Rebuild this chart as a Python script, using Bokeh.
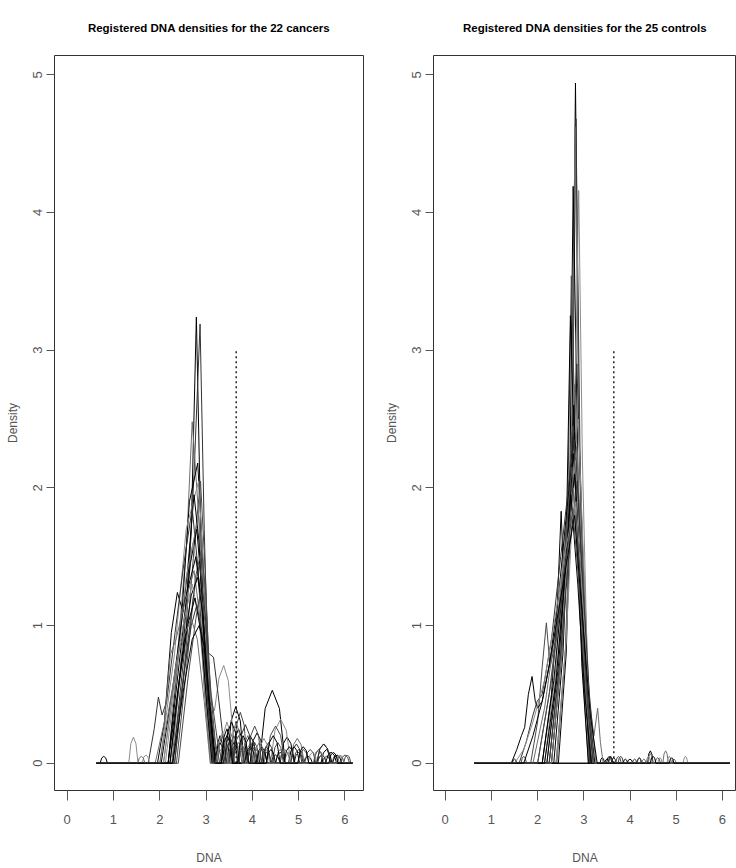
from bokeh.plotting import figure
from bokeh.layouts import row
from bokeh.models import Range1d, FixedTicker
from bokeh.embed import file_html
from bokeh.resources import INLINE

# ---------------- data ----------------
grid_start = 0.63
grid_end = 6.16
cutoff_x = [3.65]
cutoff_top = [3.0]
x_ticks = [0, 1, 2, 3, 4, 5, 6]
y_ticks = [0, 1, 2, 3, 4, 5]
titles = ["Registered DNA densities for the 22 cancers",
          "Registered DNA densities for the 25 controls"]

# main body knots (x, density) of each of the 22 cancer densities
cancer_body = [
    [(2.22, 0), (2.50, 0.8), (2.68, 1.7), (2.79, 3.24), (2.89, 1.6), (3.00, 0.5), (3.12, 0)],
    [(2.28, 0), (2.56, 0.9), (2.74, 2.1), (2.87, 3.19), (2.96, 1.7), (3.06, 0.45), (3.16, 0)],
    [(2.08, 0), (2.36, 0.7), (2.58, 1.6), (2.70, 2.48), (2.84, 1.8), (2.99, 0.6), (3.14, 0)],
    [(2.18, 0), (2.46, 1.0), (2.64, 1.9), (2.82, 2.18), (2.93, 1.5), (3.06, 0.5), (3.20, 0)],
    [(2.00, 0), (2.32, 0.8), (2.57, 1.7), (2.84, 2.05), (2.96, 1.3), (3.08, 0.45), (3.18, 0.38),
     (3.28, 0.62), (3.38, 0.71), (3.48, 0.6), (3.56, 0.3), (3.62, 0.1), (3.70, 0)],
    [(2.32, 0), (2.56, 0.8), (2.75, 1.6), (2.88, 2.05), (2.98, 1.4), (3.09, 0.45), (3.24, 0)],
    [(1.95, 0), (2.10, 0.3), (2.25, 0.95), (2.38, 1.24), (2.50, 1.1), (2.60, 1.4), (2.74, 1.95),
     (2.85, 1.6), (2.97, 0.65), (3.12, 0)],
    [(1.75, 0), (1.88, 0.25), (1.97, 0.48), (2.05, 0.35), (2.15, 0.45), (2.33, 0.95), (2.52, 1.45),
     (2.70, 1.85), (2.83, 1.4), (2.96, 0.55), (3.10, 0)],
    [(2.26, 0), (2.50, 0.9), (2.69, 1.55), (2.84, 1.80), (2.94, 1.35), (3.05, 0.55), (3.18, 0)],
    [(2.18, 0), (2.46, 0.85), (2.66, 1.45), (2.80, 1.70), (2.91, 1.25), (3.03, 0.55), (3.14, 0.15), (3.25, 0)],
    [(2.12, 0), (2.36, 0.65), (2.57, 1.35), (2.72, 1.60), (2.86, 1.3), (2.99, 0.6), (3.12, 0)],
    [(2.36, 0), (2.58, 0.7), (2.77, 1.35), (2.90, 1.55), (2.99, 1.25), (3.09, 0.55), (3.20, 0.15), (3.30, 0)],
    [(2.03, 0), (2.28, 0.55), (2.52, 1.15), (2.78, 1.50), (2.91, 1.15), (3.03, 0.5), (3.16, 0)],
    [(2.32, 0), (2.56, 0.75), (2.74, 1.25), (2.86, 1.45), (2.96, 1.15), (3.05, 0.8), (3.16, 0.77),
     (3.26, 0.5), (3.36, 0.2), (3.45, 0)],
    [(1.90, 0), (2.10, 0.3), (2.23, 0.79), (2.35, 0.9), (2.53, 1.15), (2.74, 1.40), (2.87, 1.05),
     (2.99, 0.45), (3.11, 0)],
    [(2.22, 0), (2.47, 0.75), (2.68, 1.22), (2.82, 1.35), (2.94, 1.05), (3.06, 0.5), (3.21, 0)],
    [(2.08, 0), (2.32, 0.65), (2.53, 1.05), (2.70, 1.30), (2.85, 1.05), (2.98, 0.5), (3.11, 0)],
    [(2.40, 0), (2.62, 0.65), (2.78, 1.05), (2.88, 1.25), (2.99, 1.0), (3.11, 0.5), (3.25, 0.15), (3.35, 0)],
    [(2.18, 0), (2.42, 0.6), (2.60, 1.0), (2.76, 1.20), (2.89, 0.95), (3.01, 0.45), (3.13, 0)],
    [(2.27, 0), (2.52, 0.65), (2.68, 1.0), (2.80, 1.15), (2.91, 0.95), (3.03, 0.5), (3.16, 0)],
    [(2.00, 0), (2.20, 0.4), (2.43, 0.85), (2.68, 1.05), (2.81, 0.9), (2.96, 0.45), (3.09, 0)],
    [(2.28, 0), (2.52, 0.55), (2.70, 0.9), (2.85, 1.00), (2.96, 0.85), (3.07, 0.45), (3.19, 0)],
]
# small separate bumps (centre, height, half width) of each cancer density
cancer_bumps = [
    [(3.45, 0.12, 0.12), (3.90, 0.08, 0.10), (4.50, 0.06, 0.10), (5.20, 0.05, 0.10)],
    [(3.50, 0.15, 0.10), (3.80, 0.10, 0.10), (4.30, 0.08, 0.12), (5.60, 0.05, 0.10)],
    [(3.35, 0.20, 0.10), (3.70, 0.15, 0.12), (4.10, 0.10, 0.10), (4.80, 0.08, 0.12), (5.50, 0.06, 0.10)],
    [(3.64, 0.41, 0.18), (4.20, 0.12, 0.12), (4.75, 0.19, 0.15), (5.43, 0.10, 0.10)],
    [(3.95, 0.14, 0.12), (4.60, 0.10, 0.10), (5.90, 0.05, 0.08)],
    [(3.50, 0.20, 0.10), (3.74, 0.37, 0.15), (4.05, 0.15, 0.10), (5.00, 0.10, 0.12)],
    [(3.30, 0.15, 0.10), (3.60, 0.12, 0.10), (4.60, 0.08, 0.10)],
    [(3.40, 0.10, 0.10), (4.00, 0.12, 0.12), (5.50, 0.06, 0.10)],
    [(3.50, 0.25, 0.12), (3.90, 0.20, 0.12), (4.30, 0.10, 0.10), (4.97, 0.18, 0.15), (5.80, 0.06, 0.08)],
    [(3.60, 0.15, 0.12), (3.95, 0.20, 0.15), (4.43, 0.53, 0.28), (4.90, 0.12, 0.12), (5.54, 0.14, 0.15)],
    [(3.45, 0.30, 0.12), (3.80, 0.18, 0.12), (4.61, 0.32, 0.22), (5.30, 0.08, 0.10)],
    [(3.60, 0.20, 0.12), (4.00, 0.15, 0.10), (4.50, 0.27, 0.20), (5.10, 0.10, 0.12), (6.00, 0.06, 0.10)],
    [(3.30, 0.20, 0.08), (3.70, 0.25, 0.12), (4.20, 0.10, 0.12), (5.83, 0.06, 0.10)],
    [(3.80, 0.12, 0.10), (4.35, 0.15, 0.12), (5.00, 0.08, 0.10)],
    [(3.40, 0.18, 0.10), (3.90, 0.10, 0.10), (4.70, 0.10, 0.12)],
    [(3.55, 0.30, 0.15), (4.10, 0.22, 0.15), (4.80, 0.12, 0.12), (5.60, 0.10, 0.12)],
    [(1.43, 0.19, 0.10), (1.70, 0.06, 0.08), (3.35, 0.22, 0.12), (3.75, 0.15, 0.10), (4.25, 0.18, 0.12),
     (5.43, 0.10, 0.12)],
    [(3.70, 0.20, 0.12), (4.05, 0.27, 0.15), (4.55, 0.15, 0.12), (5.25, 0.10, 0.12), (6.05, 0.06, 0.08)],
    [(0.79, 0.05, 0.08), (3.45, 0.20, 0.12), (3.95, 0.12, 0.12), (4.40, 0.10, 0.10), (5.70, 0.08, 0.12)],
    [(3.50, 0.15, 0.10), (3.85, 0.28, 0.15), (4.30, 0.12, 0.10), (4.95, 0.14, 0.12), (5.54, 0.14, 0.15)],
    [(1.60, 0.05, 0.08), (3.30, 0.10, 0.10), (3.65, 0.30, 0.12), (4.15, 0.15, 0.12), (5.90, 0.06, 0.08)],
    [(3.45, 0.25, 0.12), (3.80, 0.20, 0.12), (4.45, 0.20, 0.15), (5.10, 0.12, 0.12), (5.75, 0.08, 0.10)],
]

# main body knots of each of the 25 control densities
control_body = [
    [(2.45, 0), (2.62, 0.8), (2.74, 2.2), (2.82, 4.94), (2.90, 2.4), (3.00, 0.9), (3.12, 0)],
    [(2.40, 0), (2.60, 0.8), (2.75, 2.3), (2.83, 4.68), (2.92, 2.2), (3.03, 0.8), (3.14, 0)],
    [(2.42, 0), (2.62, 0.9), (2.74, 2.4), (2.81, 4.62), (2.90, 2.3), (3.01, 0.8), (3.12, 0)],
    [(2.35, 0), (2.55, 0.8), (2.70, 2.1), (2.77, 4.19), (2.88, 2.0), (3.00, 0.7), (3.14, 0)],
    [(2.40, 0), (2.62, 0.9), (2.78, 2.0), (2.89, 4.16), (2.97, 2.2), (3.07, 0.8), (3.18, 0)],
    [(2.30, 0), (2.52, 0.8), (2.65, 1.8), (2.73, 3.54), (2.84, 2.0), (2.97, 0.7), (3.10, 0)],
    [(2.25, 0), (2.50, 0.8), (2.63, 1.8), (2.71, 3.25), (2.82, 2.0), (2.96, 0.7), (3.10, 0)],
    [(2.30, 0), (2.55, 0.9), (2.72, 2.0), (2.85, 2.90), (2.95, 1.8), (3.07, 0.7), (3.20, 0)],
    [(2.20, 0), (2.45, 0.8), (2.65, 1.8), (2.80, 2.75), (2.92, 1.7), (3.06, 0.6), (3.19, 0)],
    [(2.10, 0), (2.30, 0.5), (2.42, 1.1), (2.51, 1.83), (2.58, 1.2), (2.68, 1.8), (2.78, 2.60),
     (2.90, 1.6), (3.04, 0.6), (3.16, 0)],
    [(2.15, 0), (2.40, 0.7), (2.58, 1.64), (2.66, 1.5), (2.76, 2.2), (2.88, 2.50), (2.98, 1.6),
     (3.10, 0.6), (3.22, 0)],
    [(1.85, 0), (2.00, 0.3), (2.10, 0.7), (2.19, 1.02), (2.27, 0.7), (2.40, 0.9), (2.60, 1.6),
     (2.76, 2.45), (2.88, 1.6), (3.02, 0.6), (3.16, 0)],
    [(1.43, 0), (1.55, 0.1), (1.65, 0.2), (1.72, 0.26), (1.80, 0.5), (1.88, 0.63), (1.95, 0.45),
     (2.00, 0.4), (2.10, 0.45), (2.25, 0.7), (2.45, 1.2), (2.65, 1.9), (2.80, 2.40), (2.92, 1.6),
     (3.06, 0.6), (3.18, 0)],
    [(1.60, 0), (1.75, 0.15), (1.90, 0.35), (1.99, 0.45), (2.10, 0.5), (2.30, 0.9), (2.50, 1.5),
     (2.70, 2.1), (2.79, 2.35), (2.92, 1.5), (3.06, 0.55), (3.19, 0)],
    [(2.30, 0), (2.52, 0.8), (2.70, 1.8), (2.84, 2.30), (2.97, 1.4), (3.10, 0.5), (3.22, 0.2),
     (3.30, 0.4), (3.36, 0.15), (3.42, 0)],
    [(2.20, 0), (2.45, 0.7), (2.65, 1.6), (2.77, 2.25), (2.92, 1.5), (3.06, 0.6), (3.19, 0)],
    [(2.25, 0), (2.50, 0.8), (2.68, 1.7), (2.82, 2.20), (2.94, 1.4), (3.09, 0.5), (3.24, 0)],
    [(2.00, 0), (2.25, 0.5), (2.50, 1.2), (2.74, 2.15), (2.87, 1.5), (3.02, 0.6), (3.14, 0)],
    [(2.10, 0), (2.35, 0.6), (2.55, 1.3), (2.80, 2.10), (2.94, 1.3), (3.09, 0.5), (3.24, 0)],
    [(2.25, 0), (2.50, 0.8), (2.70, 1.6), (2.86, 2.05), (2.98, 1.3), (3.12, 0.5), (3.26, 0)],
    [(1.90, 0), (2.15, 0.4), (2.40, 1.0), (2.60, 1.5), (2.78, 2.00), (2.92, 1.2), (3.07, 0.4), (3.19, 0)],
    [(2.15, 0), (2.40, 0.6), (2.60, 1.4), (2.72, 1.95), (2.87, 1.3), (3.02, 0.5), (3.16, 0)],
    [(1.50, 0), (1.70, 0.1), (1.90, 0.3), (2.15, 0.6), (2.40, 1.1), (2.60, 1.55), (2.83, 1.90),
     (2.97, 1.2), (3.12, 0.4), (3.26, 0)],
    [(2.00, 0), (2.30, 0.6), (2.55, 1.3), (2.76, 1.85), (2.92, 1.2), (3.08, 0.45), (3.22, 0)],
    [(1.70, 0), (1.90, 0.2), (2.10, 0.45), (2.30, 0.8), (2.55, 1.3), (2.80, 1.80), (2.96, 1.1),
     (3.14, 0.35), (3.29, 0)],
]
control_bumps = [
    [(3.55, 0.05, 0.06), (4.44, 0.09, 0.06)],
    [(3.80, 0.05, 0.06)],
    [(4.77, 0.09, 0.06)],
    [(4.00, 0.03, 0.06)],
    [(5.20, 0.05, 0.05)],
    [(4.60, 0.04, 0.06)],
    [(3.40, 0.04, 0.05)],
    [(3.65, 0.04, 0.05)],
    [(4.30, 0.03, 0.05)],
    [(3.50, 0.03, 0.05)],
    [(4.85, 0.05, 0.05)],
    [(3.75, 0.05, 0.06)],
    [(1.50, 0.03, 0.05)],
    [(4.10, 0.03, 0.05)],
    [(4.44, 0.07, 0.05)],
    [(3.90, 0.03, 0.05)],
    [(4.65, 0.04, 0.05)],
    [(1.70, 0.05, 0.06)],
    [(3.58, 0.05, 0.05)],
    [(3.58, 0.05, 0.05)],
    [(4.95, 0.03, 0.05)],
    [(4.20, 0.04, 0.05)],
    [(4.40, 0.05, 0.05)],
    [(4.20, 0.04, 0.05)],
    [(4.50, 0.05, 0.06), (4.90, 0.04, 0.05)],
]

line_colors = ["black", "#333333", "#6e6e6e", "black", "#8c8c8c", "#4a4a4a"]

FONT = "Liberation Sans"
Y_LO, Y_HI = -0.198, 5.14


def curve_points(body, bumps):
    pieces = [list(body)]
    for c, h, w in bumps:
        pieces.append([(c - w, 0), (c - 0.55 * w, 0.75 * h), (c, h),
                       (c + 0.55 * w, 0.75 * h), (c + w, 0)])
    pieces.sort(key=lambda s: s[0][0])
    pts = [(grid_start, 0)]
    for s in pieces:
        pts.extend(s)
    pts.append((grid_end, 0))
    return [p[0] for p in pts], [p[1] for p in pts]


def make_panel(title, bodies, bumps, x_lo, x_hi, left, right):
    p = figure(width=368, height=868, x_range=Range1d(x_lo, x_hi), y_range=Range1d(Y_LO, Y_HI),
               output_backend="svg", toolbar_location=None,
               min_border_left=left, min_border_right=right,
               min_border_top=55, min_border_bottom=78)
    p.title.text = title
    p.title.align = "center"
    p.title.vertical_align = "top"
    p.title.text_font = FONT
    p.title.text_font_size = "11.5px"
    p.title.text_font_style = "bold"
    p.title.text_color = "black"
    p.title.standoff = 40
    p.grid.visible = False
    p.outline_line_color = "#333333"
    p.outline_line_width = 1
    p.background_fill_color = "white"
    p.border_fill_color = "white"

    xs, ys = [], []
    for b, bb in zip(bodies, bumps):
        x, y = curve_points(b, bb)
        xs.append(x)
        ys.append(y)
    cols = [line_colors[i % len(line_colors)] for i in range(len(xs))]
    p.multi_line(xs=xs, ys=ys, line_color=cols, line_width=1.0)
    p.segment(x0=cutoff_x, y0=[0], x1=cutoff_x, y1=cutoff_top,
              line_color="black", line_width=1.3, line_dash="2 3")

    for ax in (p.xaxis, p.yaxis):
        ax.axis_line_color = None
        ax.major_tick_line_color = "#555555"
        ax.major_tick_in = 0
        ax.minor_tick_line_color = None
        ax.major_label_text_font = FONT
        ax.major_label_text_font_size = "13px"
        ax.major_label_text_color = "#555555"
        ax.axis_label_text_font = FONT
        ax.axis_label_text_font_size = "12px"
        ax.axis_label_text_font_style = "normal"
        ax.axis_label_text_color = "#555555"
    p.xaxis.ticker = FixedTicker(ticks=x_ticks)
    p.yaxis.ticker = FixedTicker(ticks=y_ticks)
    p.xaxis.major_tick_out = 10
    p.yaxis.major_tick_out = 8
    p.xaxis.major_label_standoff = 14
    p.yaxis.major_label_standoff = 4
    p.yaxis.major_label_orientation = "vertical"
    p.xaxis.axis_label = "DNA"
    p.yaxis.axis_label = "Density"
    p.xaxis.axis_label_standoff = 24
    p.yaxis.axis_label_standoff = 11
    return p


p1 = make_panel(titles[0], cancer_body, cancer_bumps, -0.274, 6.40, 54, 5)
p2 = make_panel(titles[1], control_body, control_bumps, -0.253, 6.305, 65, 0)

layout = row(p1, p2)
open("out.html", "w").write(file_html(layout, INLINE))
